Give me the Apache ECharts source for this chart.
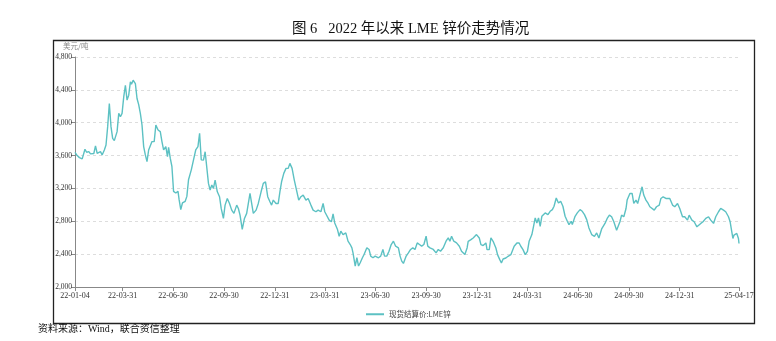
<!DOCTYPE html>
<html><head><meta charset="utf-8">
<script src="https://cdn.jsdelivr.net/npm/echarts@6/dist/echarts.min.js"></script>
<style>html,body{margin:0;padding:0;background:#fff}#c{width:776px;height:341px}</style>
</head><body><div id="c"></div>
<script>
const seriesName = '现货结算价:LME锌';
const tickDates = ['2022-01-04','2022-03-31','2022-06-30','2022-09-30','2022-12-31','2023-03-31','2023-06-30','2023-09-30','2023-12-31','2024-03-31','2024-06-30','2024-09-30','2024-12-31','2025-04-17'];
const yTicks = [2000,2400,2800,3200,3600,4000,4400,4800];
const dates = [
'2022-01-04','2022-01-08','2022-01-12','2022-01-17','2022-01-22','2022-01-25','2022-01-29','2022-02-01','2022-02-04','2022-02-07','2022-02-10','2022-02-13','2022-02-16','2022-02-19','2022-02-22','2022-02-26',
'2022-03-01','2022-03-04','2022-03-07','2022-03-10','2022-03-13','2022-03-16','2022-03-21','2022-03-24','2022-03-27','2022-03-30','2022-04-02','2022-04-05','2022-04-08','2022-04-11','2022-04-14','2022-04-16','2022-04-19','2022-04-21','2022-04-23','2022-04-26','2022-04-29',
'2022-05-02','2022-05-05','2022-05-08','2022-05-11','2022-05-14','2022-05-17','2022-05-20','2022-05-23','2022-05-27','2022-05-30','2022-06-03','2022-06-07','2022-06-10','2022-06-13','2022-06-17','2022-06-20','2022-06-22','2022-06-25','2022-06-28',
'2022-07-01','2022-07-05','2022-07-09','2022-07-11','2022-07-14','2022-07-17','2022-07-22','2022-07-25','2022-07-28','2022-08-02','2022-08-06','2022-08-10','2022-08-14','2022-08-17','2022-08-20','2022-08-24','2022-08-27',
'2022-09-02','2022-09-05','2022-09-08','2022-09-11','2022-09-14','2022-09-18','2022-09-22','2022-09-25','2022-09-29','2022-10-02','2022-10-06','2022-10-10','2022-10-14','2022-10-18','2022-10-23','2022-10-26','2022-10-29',
'2022-11-02','2022-11-06','2022-11-10','2022-11-13','2022-11-16','2022-11-19','2022-11-22','2022-11-27','2022-12-01','2022-12-06','2022-12-10','2022-12-14','2022-12-18','2022-12-22','2022-12-25','2022-12-28',
'2023-01-02','2023-01-06','2023-01-09','2023-01-12','2023-01-16','2023-01-20','2023-01-24','2023-01-27','2023-01-31','2023-02-04','2023-02-08','2023-02-12','2023-02-16','2023-02-20','2023-02-25',
'2023-03-01','2023-03-06','2023-03-10','2023-03-15','2023-03-19','2023-03-24','2023-03-28','2023-03-31','2023-04-03','2023-04-08','2023-04-12','2023-04-15','2023-04-18','2023-04-23','2023-04-26','2023-04-29',
'2023-05-03','2023-05-08','2023-05-12','2023-05-16','2023-05-19','2023-05-21','2023-05-25','2023-05-28','2023-05-31','2023-06-03','2023-06-07','2023-06-10','2023-06-15','2023-06-19','2023-06-22','2023-06-26','2023-06-30',
'2023-07-06','2023-07-10','2023-07-14','2023-07-17','2023-07-21','2023-07-25','2023-07-29','2023-08-02','2023-08-06','2023-08-11','2023-08-14','2023-08-17','2023-08-20','2023-08-25','2023-08-29',
'2023-09-02','2023-09-06','2023-09-10','2023-09-14','2023-09-18','2023-09-22','2023-09-26','2023-09-30','2023-10-03','2023-10-07','2023-10-13','2023-10-18','2023-10-22','2023-10-26','2023-10-31',
'2023-11-05','2023-11-09','2023-11-12','2023-11-15','2023-11-19','2023-11-24','2023-11-29','2023-12-03','2023-12-09','2023-12-13','2023-12-15','2023-12-20','2023-12-24','2023-12-30',
'2024-01-04','2024-01-07','2024-01-11','2024-01-16','2024-01-18','2024-01-22','2024-01-25','2024-01-29','2024-02-03','2024-02-06','2024-02-10','2024-02-13','2024-02-16','2024-02-21','2024-02-25',
'2024-03-01','2024-03-04','2024-03-07','2024-03-12','2024-03-16','2024-03-19','2024-03-23','2024-03-27','2024-03-31','2024-04-03','2024-04-08','2024-04-11','2024-04-14','2024-04-17','2024-04-20','2024-04-23','2024-04-26','2024-04-29',
'2024-05-02','2024-05-07','2024-05-11','2024-05-15','2024-05-18','2024-05-22','2024-05-26','2024-05-30','2024-06-03','2024-06-07','2024-06-11','2024-06-14','2024-06-18','2024-06-20','2024-06-25','2024-06-29',
'2024-07-04','2024-07-08','2024-07-12','2024-07-16','2024-07-20','2024-07-25','2024-07-30','2024-08-03','2024-08-07','2024-08-12','2024-08-15','2024-08-18','2024-08-22','2024-08-26','2024-08-30',
'2024-09-03','2024-09-08','2024-09-11','2024-09-14','2024-09-17','2024-09-21','2024-09-25','2024-09-27','2024-10-02','2024-10-06','2024-10-09','2024-10-13','2024-10-16','2024-10-20','2024-10-24','2024-10-27','2024-10-31',
'2024-11-04','2024-11-07','2024-11-10','2024-11-15','2024-11-19','2024-11-24','2024-11-27','2024-12-01','2024-12-06','2024-12-09','2024-12-13','2024-12-18','2024-12-22','2024-12-27','2024-12-31',
'2025-01-05','2025-01-09','2025-01-14','2025-01-17','2025-01-22','2025-01-26','2025-01-31','2025-02-02','2025-02-07','2025-02-11','2025-02-16','2025-02-21','2025-02-25',
'2025-03-02','2025-03-06','2025-03-11','2025-03-15','2025-03-20','2025-03-24','2025-03-29','2025-04-01','2025-04-04','2025-04-06','2025-04-08','2025-04-13','2025-04-16','2025-04-17'
];
const prices = [
3640,3600,3575,3560,3677,3640,3648,3620,3636,3625,3717,3628,3640,3648,3608,3668,
3729,3952,4234,3952,3810,3782,3891,4113,4073,4113,4315,4456,4275,4335,4497,4470,4517,4500,4477,4295,4220,
4113,3972,3709,3608,3527,3668,3720,3770,3770,3972,3911,3891,3770,3668,3709,3588,3701,3568,3467,
3164,3144,3164,3063,2942,3023,3043,3103,3305,3426,3548,3668,3709,3871,3548,3545,3647,
3261,3180,3241,3200,3302,3159,3099,2956,2835,2997,3078,3017,2936,2896,2997,2956,2875,
2701,2835,2896,3017,3139,3017,2896,2936,3017,3159,3261,3281,3099,3038,2997,3058,
3017,3017,3159,3281,3383,3444,3444,3505,3444,3302,3180,3058,3099,3119,3058,
3078,2997,2936,2916,2936,2916,3017,2916,2916,2814,2794,2890,2780,2699,2618,2679,
2638,2659,2558,2517,2477,2416,2255,2356,2255,2295,2356,2396,2477,2457,2376,2356,2376,
2356,2376,2457,2376,2376,2436,2517,2558,2497,2477,2376,2315,2287,2376,2416,
2457,2477,2457,2537,2517,2497,2517,2618,2497,2477,2457,2416,2457,2436,2477,
2558,2598,2558,2618,2558,2537,2497,2436,2396,2475,2556,2577,2597,2638,
2597,2516,2504,2536,2455,2455,2597,2556,2475,2394,2333,2292,2341,2353,2374,
2394,2374,2496,2536,2536,2496,2455,2394,2435,2556,2638,2739,2841,2780,2841,2739,2861,2841,
2902,2881,2922,2942,2983,3084,3023,3043,2983,2861,2800,2759,2800,2759,2861,2902,
2942,2922,2881,2820,2719,2638,2617,2658,2597,2707,2692,2774,2835,2875,2855,
2794,2692,2672,2794,2875,2855,2956,3058,3139,3139,3017,3058,3017,3119,3220,3119,3058,
3017,2977,2997,2936,2977,2997,3078,3098,3078,3098,3078,2997,2977,3017,2956,
2855,2855,2814,2875,2814,2794,2733,2713,2774,2794,2835,2855,2814,
2774,2855,2916,2956,2936,2916,2855,2794,2672,2591,2632,2652,2591,2530
];
function toTime(s){const p=s.split('-').map(Number);return Date.UTC(p[0],p[1]-1,p[2]);}
function pad(n){return (n<10?'0':'')+n;}
function fmtDate(v){const d=new Date(v);return pad(d.getUTCFullYear()%100)+'-'+pad(d.getUTCMonth()+1)+'-'+pad(d.getUTCDate());}
const pairs = dates.map((d, i) => [toTime(d), prices[i]]);
const tickTimes = tickDates.map(toTime);
const chart = echarts.init(document.getElementById('c'), null, {renderer:'canvas'});
chart.setOption({
  animation:false,
  graphic:[{type:'rect',left:51,top:38,shape:{width:701,height:283},style:{fill:'none',stroke:'#222',lineWidth:1.3}}],
  title:[
    {text:'图 6   2022 年以来 LME 锌价走势情况',left:287,top:17,textStyle:{fontFamily:'Liberation Serif, Noto Sans CJK SC',fontSize:14.5,fontWeight:'normal',color:'#111'}},
    {text:'资料来源：Wind，联合资信整理',left:33,top:319,textStyle:{fontFamily:'Liberation Serif, Noto Sans CJK SC',fontSize:10,fontWeight:'normal',color:'#111'}}
  ],
  legend:{bottom:18,left:361,icon:'rect',itemWidth:18,itemHeight:2,itemGap:4,textStyle:{fontSize:7.5,color:'#444',fontFamily:'Noto Sans CJK SC'},data:[seriesName]},
  grid:{left:75,right:37,top:57,bottom:54,containLabel:false},
  xAxis:{type:'value',min:tickTimes[0],max:tickTimes[tickTimes.length-1],scale:true,
    axisLine:{lineStyle:{color:'#888'}},
    axisTick:{show:true,customValues:tickTimes,length:4,lineStyle:{color:'#888'}},
    axisLabel:{customValues:tickTimes,formatter:fmtDate,hideOverlap:false,showMinLabel:true,showMaxLabel:true,fontSize:8,color:'#333',fontFamily:'Liberation Serif',margin:5},
    splitLine:{show:false}},
  yAxis:{type:'value',min:yTicks[0],max:yTicks[yTicks.length-1],interval:400,name:'美元/吨',nameLocation:'end',nameGap:7,
    nameTextStyle:{fontSize:7.5,color:'#888',align:'left',padding:[0,0,0,-12],fontFamily:'Noto Sans CJK SC'},
    axisLine:{show:true,lineStyle:{color:'#888'}},
    axisTick:{show:true,length:4,lineStyle:{color:'#888'}},
    axisLabel:{fontSize:7.5,color:'#333',fontFamily:'Liberation Serif',margin:3,formatter:v=>v.toLocaleString('en-US')},
    splitLine:{show:true,lineStyle:{color:'#ddd',type:[3,3]}}},
  series:[{name:seriesName,type:'line',data:pairs,showSymbol:false,symbol:'none',
    lineStyle:{color:'#5cc1c3',width:1.4},itemStyle:{color:'#5cc1c3'}}]
});
</script></body></html>
